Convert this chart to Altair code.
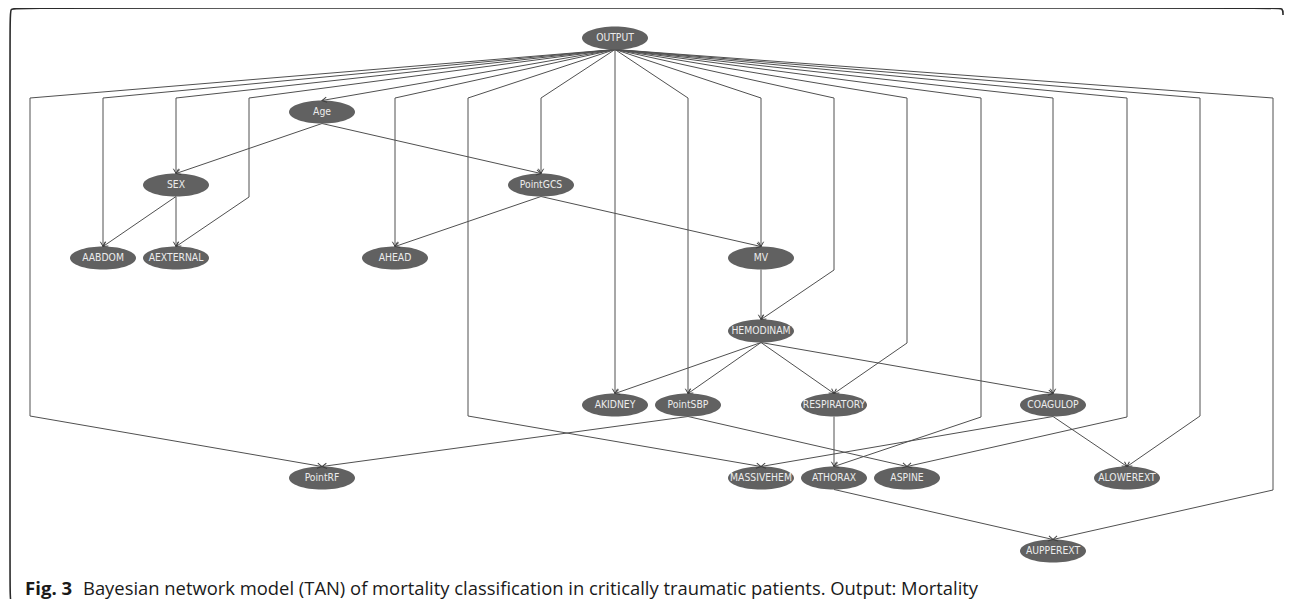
import math
import altair as alt
import pandas as pd

# ---------------- data ----------------
node_names = ["OUTPUT", "Age", "SEX", "PointGCS", "AABDOM", "AEXTERNAL", "AHEAD",
              "MV", "HEMODINAM", "AKIDNEY", "PointSBP", "RESPIRATORY", "COAGULOP",
              "PointRF", "MASSIVEHEM", "ATHORAX", "ASPINE", "ALOWEREXT", "AUPPEREXT"]
node_x = [615, 322, 176, 541, 103, 176, 395, 761, 761, 615, 688, 834, 1053,
          322, 761, 834, 907, 1127, 1053]
node_y = [38, 112, 185, 185, 258, 258, 258, 258, 331, 405, 405, 405, 405,
          478, 478, 478, 478, 478, 551]

edge_src = ["OUTPUT"] * 18 + ["Age", "Age", "SEX", "SEX", "PointGCS", "PointGCS", "MV",
                              "HEMODINAM", "HEMODINAM", "HEMODINAM", "HEMODINAM",
                              "PointSBP", "PointSBP", "RESPIRATORY", "COAGULOP",
                              "COAGULOP", "ATHORAX"]
edge_dst = ["PointRF", "AABDOM", "SEX", "AEXTERNAL", "Age", "AHEAD", "MASSIVEHEM",
            "PointGCS", "AKIDNEY", "PointSBP", "MV", "HEMODINAM", "RESPIRATORY",
            "ATHORAX", "COAGULOP", "ASPINE", "ALOWEREXT", "AUPPEREXT",
            "SEX", "PointGCS", "AABDOM", "AEXTERNAL", "AHEAD", "MV", "HEMODINAM",
            "AKIDNEY", "PointSBP", "RESPIRATORY", "COAGULOP",
            "PointRF", "ASPINE", "ATHORAX", "MASSIVEHEM", "ALOWEREXT", "AUPPEREXT"]
# routing bends (column x, first bend y, second bend y); None = straight edge
bend_x = [30, 103, 176, 249, None, 395, 468, 541, None, 688, 761, 834, 907, 981,
          1053, 1127, 1200, 1273] + [None] * 17
bend_y1 = [98, 98, 98, 98, None, 98, 98, 98, None, 98, 98, 98, 98, 98,
           98, 98, 98, 98] + [None] * 17
bend_y2 = [416, None, None, 197, None, None, 416, None, None, None, None, 270, 343, 417,
           None, 417, 416, 490] + [None] * 17

frame_x = [1283, 1283, 1276, 18, 10, 10, 10, 10, 16]
frame_y = [15, 8, 8, 8, 8, 17, 594, 603, 603]

caption_bold = "Fig. 3"
caption_text = ("Bayesian network model (TAN) of mortality classification in "
                "critically traumatic patients. Output: Mortality")

HALF_H = 11.5

# ---------------- derived tables ----------------
pos = {n: (x, y) for n, x, y in zip(node_names, node_x, node_y)}
nodes = pd.DataFrame({"name": node_names, "x": node_x, "y": node_y})

line_rows, arrow_rows = [], []
for i, (s, d) in enumerate(zip(edge_src, edge_dst)):
    sx, sy = pos[s]
    tx, ty = pos[d]
    pts = [(sx, sy + HALF_H)]
    if bend_x[i] is not None:
        pts.append((bend_x[i], bend_y1[i]))
        if bend_y2[i] is not None:
            pts.append((bend_x[i], bend_y2[i]))
    pts.append((tx, ty - HALF_H))
    for k, (px, py) in enumerate(pts):
        line_rows.append({"edge": i, "k": k, "x": px, "y": py})
    (ax, ay), (bx, by) = pts[-2], pts[-1]
    ang = math.degrees(math.atan2(-(bx - ax), (by - ay))) % 360
    arrow_rows.append({"x": bx, "y": by, "angle": ang})

lines = pd.DataFrame(line_rows)
arrows = pd.DataFrame(arrow_rows)
frame = pd.DataFrame({"x": frame_x, "y": frame_y, "k": list(range(len(frame_x)))})
caps = pd.DataFrame({"x": [25], "y": [595]})
caps2 = pd.DataFrame({"x": [83], "y": [595]})

W, H = 1276, 591
xs = alt.Scale(domain=[8, 8 + W], nice=False, zero=False)
ys = alt.Scale(domain=[8, 8 + H], nice=False, zero=False, reverse=True)
X = alt.X("x:Q", scale=xs, axis=None)
Y = alt.Y("y:Q", scale=ys, axis=None)

ellipse = "M-1,0A1,0.35 0 1,1 1,0A1,0.35 0 1,1 -1,0Z"
chevron = "M-0.55,-1L0,0L0.55,-1"

frame_l = alt.Chart(frame).mark_line(interpolate="basis", color="#2a2a2a",
                                     strokeWidth=1.6).encode(
    x=X, y=Y, order=alt.Order("k:Q"))

edges_l = alt.Chart(lines).mark_line(color="#505050", strokeWidth=1).encode(
    x=X, y=Y, detail="edge:N", order=alt.Order("k:Q"))

nodes_l = alt.Chart(nodes).mark_point(shape=ellipse, filled=True, color="#616161",
                                      opacity=1, size=66 * 66, strokeWidth=0).encode(
    x=X, y=Y)

labels_l = alt.Chart(nodes).mark_text(font="DejaVu Sans Condensed, Liberation Sans Narrow, Liberation Sans, sans-serif",
                                      fontSize=10.3, color="#ececec", baseline="middle",
                                      align="center").encode(
    x=X, y=Y, text="name:N")

arrows_l = alt.Chart(arrows).mark_point(shape=chevron, filled=False, color="#404040",
                                        opacity=1, size=90, strokeWidth=1).encode(
    x=X, y=Y, angle=alt.Angle("angle:Q", scale=None))

cap1 = alt.Chart(caps).mark_text(text=caption_bold, font="Open Sans", fontWeight="bold",
                                 fontSize=18.6, color="#1a1a1a", align="left",
                                 baseline="alphabetic").encode(x=X, y=Y)
cap2 = alt.Chart(caps2).mark_text(text=caption_text, font="Open Sans", fontSize=18.4,
                                  color="#1a1a1a", align="left",
                                  baseline="alphabetic").encode(x=X, y=Y)

chart = alt.layer(frame_l, edges_l, nodes_l, labels_l, arrows_l, cap1, cap2).properties(
    width=W, height=H, padding=0, autosize=alt.AutoSizeParams(type="none"),
    background="white"
).configure_view(stroke=None)

chart.save("out.html", embed_options={"renderer": "svg", "actions": False})
